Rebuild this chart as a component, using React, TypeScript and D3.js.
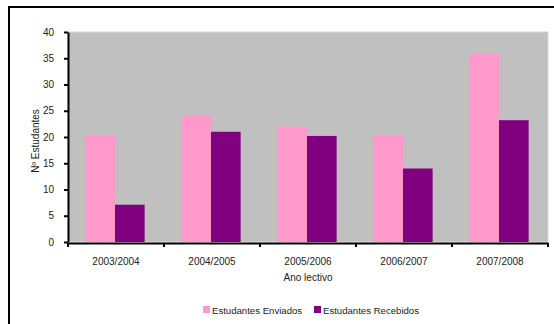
import React, { useEffect, useRef } from 'react';
import * as d3 from 'd3';

const anos = ['2003/2004', '2004/2005', '2005/2006', '2006/2007', '2007/2008'];
const enviados = [20.2, 24, 22, 20.2, 36];
const recebidos = [7.1, 21, 20.2, 14, 23.2];
const yTicks = [0, 5, 10, 15, 20, 25, 30, 35, 40];
const seriesNames = ['Estudantes Enviados', 'Estudantes Recebidos'];
const seriesColors = ['#FF99CC', '#800080'];

export default function App() {
  const ref = useRef<SVGSVGElement>(null);

  useEffect(() => {
    const svg = d3.select(ref.current);
    svg.selectAll('*').remove();
    const font = '"Liberation Sans", Arial, sans-serif';

    // chart border (cut off at the right and bottom, as in the original)
    svg
      .append('rect')
      .attr('x', 9)
      .attr('y', 7)
      .attr('width', 700)
      .attr('height', 500)
      .attr('fill', '#fff')
      .attr('stroke', '#000')
      .attr('stroke-width', 2);

    const left = 68;
    const right = 548;
    const top = 32;
    const bottom = 242;

    const x = d3.scaleBand().domain(anos).range([left, right]);
    const inner = d3
      .scaleBand()
      .domain(seriesNames)
      .range([0, x.bandwidth()])
      .paddingInner(0)
      .paddingOuter(0.62);
    const y = d3.scaleLinear().domain([0, 40]).range([bottom, top]);

    svg
      .append('rect')
      .attr('x', left)
      .attr('y', top)
      .attr('width', right - left)
      .attr('height', bottom - top)
      .attr('fill', '#C0C0C0')
      .attr('stroke', '#d8d8d8')
      .attr('stroke-width', 1);

    const rows = anos.map((a, i) => ({ ano: a, values: [enviados[i], recebidos[i]] }));

    const g = svg
      .selectAll('.grp')
      .data(rows)
      .join('g')
      .attr('class', 'grp')
      .attr('transform', d => `translate(${x(d.ano)! - 1}, 0)`);

    g.selectAll('rect')
      .data(d => d.values.map((v, i) => ({ name: seriesNames[i], v, i })))
      .join('rect')
      .attr('x', d => inner(d.name)!)
      .attr('width', inner.bandwidth())
      .attr('y', d => y(d.v))
      .attr('height', d => bottom - y(d.v))
      .attr('fill', d => seriesColors[d.i]);

    const yAxis = d3
      .axisLeft(y)
      .tickValues(yTicks)
      .tickSize(4)
      .tickSizeOuter(0)
      .tickPadding(10);
    const ya = svg.append('g').attr('transform', `translate(${left}, 0)`).call(yAxis);

    const xAxis = d3
      .axisBottom(x)
      .tickSize(0)
      .tickSizeOuter(0)
      .tickPadding(15);
    const xa = svg.append('g').attr('transform', `translate(0, ${bottom + 1})`).call(xAxis);

    // tick marks between categories
    svg
      .append('g')
      .selectAll('line')
      .data(anos.map(a => x(a)!).concat([right]))
      .join('line')
      .attr('x1', d => d)
      .attr('x2', d => d)
      .attr('y1', bottom + 1)
      .attr('y2', bottom + 5)
      .attr('stroke', '#000')
      .attr('stroke-width', 2);

    [ya, xa].forEach(a => {
      a.selectAll('.domain').attr('stroke', '#000').attr('stroke-width', 2);
      a.selectAll('line').attr('stroke', '#000').attr('stroke-width', 2);
      a.selectAll('text').attr('font-family', font).attr('font-size', 10).attr('fill', '#222');
    });

    svg
      .append('text')
      .attr('transform', `translate(39, ${(top + bottom) / 2 + 4}) rotate(-90)`)
      .attr('text-anchor', 'middle')
      .attr('font-family', font)
      .attr('font-size', 10)
      .attr('fill', '#222')
      .text('Nº Estudantes');

    svg
      .append('text')
      .attr('x', 308)
      .attr('y', 281)
      .attr('text-anchor', 'middle')
      .attr('font-family', font)
      .attr('font-size', 10)
      .attr('fill', '#222')
      .text('Ano lectivo');

    const legendX = [203, 314];
    const lg = svg
      .selectAll('.leg')
      .data(seriesNames)
      .join('g')
      .attr('class', 'leg')
      .attr('transform', (d, i) => `translate(${legendX[i]}, 306)`);
    lg.append('rect')
      .attr('x', 0)
      .attr('y', 0)
      .attr('width', 7)
      .attr('height', 7)
      .attr('fill', (d, i) => seriesColors[i]);
    lg.append('text')
      .attr('x', 9)
      .attr('y', 7.5)
      .attr('font-family', font)
      .attr('font-size', 9.6)
      .attr('fill', '#222')
      .text(d => d);
  }, []);

  return (
    <svg
      ref={ref}
      width={554}
      height={324}
      style={{ position: 'absolute', left: 0, top: 0, display: 'block' }}
    />
  );
}
